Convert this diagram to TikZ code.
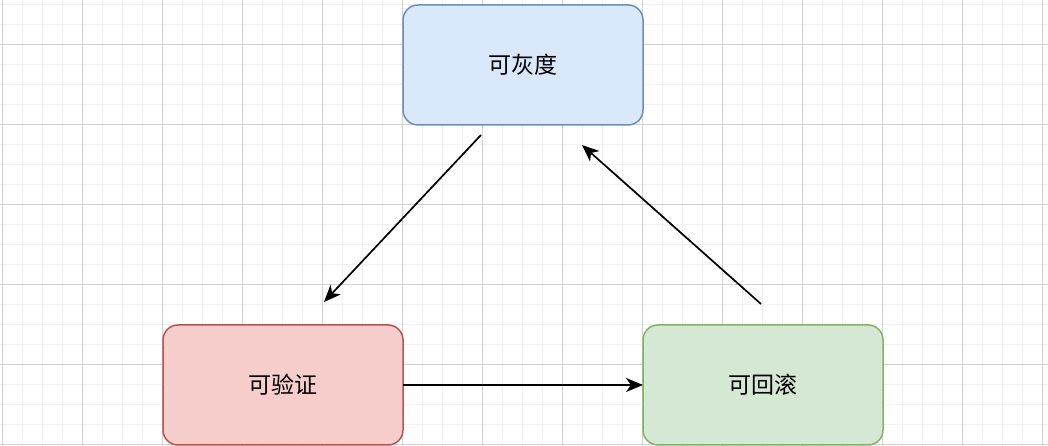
\documentclass[tikz,border=0pt]{standalone}
\usepackage{xcolor}
\usepackage{fontspec}
\newfontfamily\cjk{Noto Sans CJK SC}
\usepackage{tikz}
\usetikzlibrary{shapes,positioning}
\usetikzlibrary{calc}
\usetikzlibrary{arrows.meta}
\definecolor{bleuF}{HTML}{DAE8FC}
\definecolor{bleuD}{HTML}{6C8EBF}
\definecolor{rougeF}{HTML}{F8CECC}
\definecolor{rougeD}{HTML}{B85450}
\definecolor{vertF}{HTML}{D5E8D4}
\definecolor{vertD}{HTML}{82B366}
\tikzset{
	etape/.style={draw,rounded corners=15pt,minimum width=240pt,minimum height=120pt,outer sep=0pt,line width=1.5pt,font=\cjk\fontsize{23}{27}\selectfont},
	fleche/.style={line width=1.7pt,-{Stealth[length=17pt,width=14pt,inset=5pt]}}
}

\begin{document}
\begin{tikzpicture}[x=1pt,y=1pt]
				\useasboundingbox (0,0) rectangle (1048,446);
				\clip (0,0) rectangle (1048,446); % fond quadrille
				\fill[white] (0,0) rectangle (1048,446);
				\begin{scope}[shift={(2.5,1.7)}]
					\draw[black!5,line width=1pt] (-20,-20) grid[step=20pt] (1060,460);
					\draw[black!18,line width=1pt] (-80,-80) grid[step=80pt] (1060,460);
				\end{scope}
				
				%Etapes
				\node[etape,fill=rougeF,draw=rougeD] (check) at (283,61) {可验证};
				\node[etape,fill=vertF,draw=vertD,right=240pt of check] (back) {可回滚};
				\node[etape,fill=bleuF,draw=bleuD,above=200pt of {$(check.north)!0.5!(back.north)$}] (gray) {可灰度};
				
				%Fleches
				\draw[fleche] ([xshift=-42pt,yshift=-10pt]gray.south) -- ([xshift=41pt,yshift=23pt]check.north);
				\draw[fleche] (check.east) -- (back.west);
				\draw[fleche] ([xshift=-2pt,yshift=21pt]back.north) -- ([xshift=59pt,yshift=-20pt]gray.south);
				
			\end{tikzpicture}
\end{document}
